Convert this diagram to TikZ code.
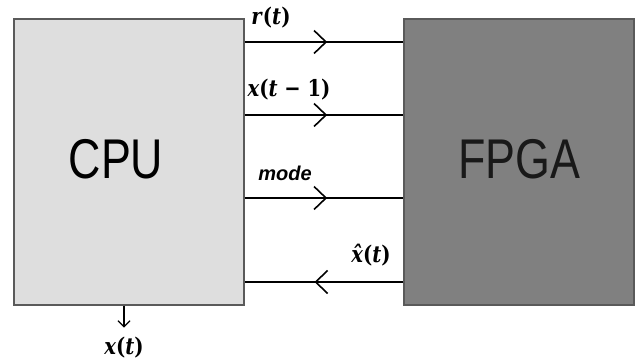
\documentclass[tikz,border=0pt]{standalone}
\usepackage{fontspec}
\usetikzlibrary{positioning,arrows.meta,decorations.markings}
\newfontfamily\blkfont{Liberation Sans}
\newfontfamily\sigfont{DejaVu Serif}
\definecolor{cpugray}{HTML}{DEDEDE}
\definecolor{fpgagray}{HTML}{808080}
\definecolor{edgegray}{HTML}{5A5A5A}

% narrow the lettering a bit
\newcommand{\narrow}[1]{\scalebox{0.8}[1]{#1}}
% bold serif signal name, a little condensed
\newcommand{\signame}[1]{\scalebox{0.85}[1]{\sigfont\bfseries #1}}

\tikzset{
  blk/.style={draw=edgegray, line width=1.3pt, minimum width=230pt,
    minimum height=286pt, inner sep=0pt, font=\blkfont\fontsize{56}{60}\selectfont},
  sig/.style={line width=1.8pt, postaction={decorate},
    decoration={markings, mark=at position #1 with
      {\arrow{Straight Barb[length=12pt,width=23pt,line width=1.6pt]}}}},
  lab/.style={inner sep=0pt, font=\fontsize{23}{26}\selectfont},
}

\begin{document}
\begin{tikzpicture}[x=1pt,y=1pt]
  \useasboundingbox (0,0) rectangle (638,363);

  \node[blk, fill=cpugray] (cpu) at (129,201) {\raisebox{6pt}{\narrow{CPU}}\hspace*{26pt}};
  \node[blk, fill=fpgagray, text=black!90] (fpga) at (519,201) {\raisebox{6pt}{\narrow{FPGA}}};

  % r(t)
  \coordinate (r) at (0,321);
  \draw[sig=0.52] (cpu.east |- r) -- (fpga.west |- r);
  \node[lab] (rlab) at (271,345) {\signame{\textit{r}(\textit{t})}};

  % x(t-1)
  \coordinate (xp) at (0,248);
  \draw[sig=0.52] (cpu.east |- xp) -- (fpga.west |- xp);
  \node[lab] (xplab) at (289,273) {\signame{\textit{x}(\textit{t} − 1)}};

  % mode
  \coordinate (md) at (0,165);
  \draw[sig=0.52] (cpu.east |- md) -- (fpga.west |- md);
  \node[lab, font=\blkfont\bfseries\itshape\fontsize{20}{22}\selectfont] (mdlab) at (285,190) {mode};

  % x-hat(t), back to the CPU
  \coordinate (xh) at (0,81);
  \draw[sig=0.56] (fpga.west |- xh) -- (cpu.east |- xh);
  \node[lab] (xhlab) at (371,108) {\signame{\textit{x̂}(\textit{t})}};

  % output x(t)
  \node[lab] (xout) at (124,15) {\signame{\textit{x}(\textit{t})}};
  \draw[line width=1.3pt, -{Straight Barb[length=6pt,width=12pt]}]
    (cpu.south -| xout) -- ++(0,-22);
\end{tikzpicture}
\end{document}
